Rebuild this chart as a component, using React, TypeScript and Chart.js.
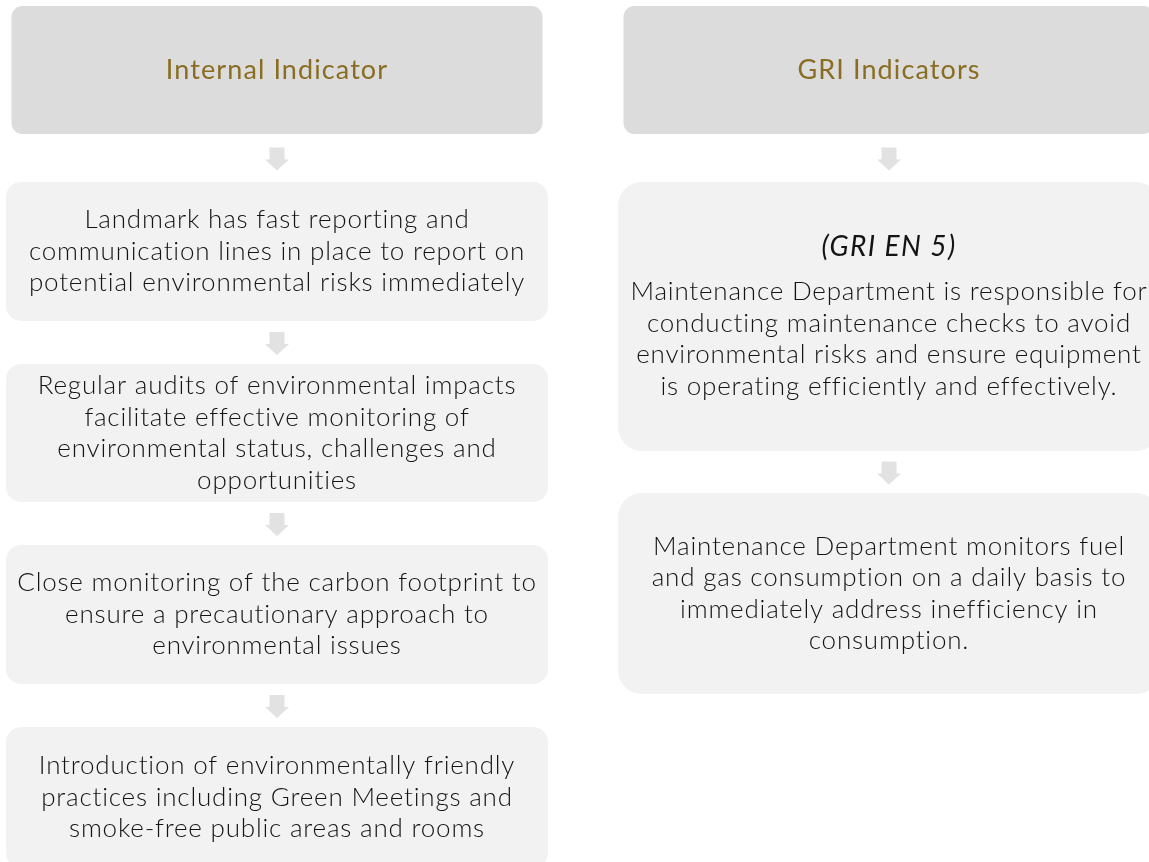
import React, { useEffect, useRef } from "react";
import { Chart, registerables } from "chart.js";

Chart.register(...registerables);

// ---- data ----
const columnCenters = [277, 889];
const headerTitles = ["Internal Indicator", "GRI Indicators"];
const headerSpans: [number, number][] = [
  [6, 134],
  [6, 134],
];

const leftBoxTexts: string[][] = [
  [
    "Landmark has fast reporting and",
    "communication lines in place to report on",
    "potential environmental risks immediately",
  ],
  [
    "Regular audits of environmental impacts",
    "facilitate effective monitoring of",
    "environmental status, challenges and",
    "opportunities",
  ],
  [
    "Close monitoring of the carbon footprint to",
    "ensure a precautionary approach to",
    "environmental issues",
  ],
  [
    "Introduction of environmentally friendly",
    "practices including Green Meetings and",
    "smoke-free public areas and rooms",
  ],
];
const leftBoxSpans: [number, number][] = [
  [182, 321],
  [364, 502],
  [545, 684],
  [727, 868],
];

const rightBoxTitles = ["(GRI EN 5)", ""];
const rightBoxTexts: string[][] = [
  [
    "Maintenance Department is responsible for",
    "conducting maintenance checks to avoid",
    "environmental risks and ensure equipment",
    "is operating efficiently and effectively.",
  ],
  [
    "Maintenance Department monitors fuel",
    "and gas consumption on a daily basis to",
    "immediately address inefficiency in",
    "consumption.",
  ],
];
const rightBoxSpans: [number, number][] = [
  [182, 451],
  [493, 694],
];

const FONT = "Lato, 'Open Sans', sans-serif";
const HEADER_COLOR = "#8a6d22";
const TEXT_COLOR = "#141414";
const ARROW_COLOR = "#e2e2e2";

const flowPlugin = {
  id: "flowPlugin",
  beforeDatasetsDraw(chart: any) {
    const ctx = chart.ctx;
    const headerMeta = chart.getDatasetMeta(0);
    const leftMeta = chart.getDatasetMeta(1);
    const rightMeta = chart.getDatasetMeta(2);
    const cols = [
      [headerMeta.data[0], ...leftMeta.data],
      [headerMeta.data[1], ...rightMeta.data],
    ];
    ctx.save();
    ctx.fillStyle = ARROW_COLOR;
    cols.forEach((els: any[]) => {
      for (let i = 0; i < els.length - 1; i++) {
        const a = els[i];
        const b = els[i + 1];
        const bottom = Math.max(a.y, a.base);
        const top = Math.min(b.y, b.base);
        const cx = a.x;
        const mid = (bottom + top) / 2 + 1;
        const t = mid - 11.5;
        const shaftEnd = mid + 0.5;
        const tip = mid + 11.5;
        ctx.beginPath();
        ctx.moveTo(cx - 7.5, t);
        ctx.lineTo(cx + 7.5, t);
        ctx.lineTo(cx + 7.5, shaftEnd);
        ctx.lineTo(cx + 12, shaftEnd);
        ctx.lineTo(cx, tip);
        ctx.lineTo(cx - 12, shaftEnd);
        ctx.lineTo(cx - 7.5, shaftEnd);
        ctx.closePath();
        ctx.fill();
      }
    });
    ctx.restore();
  },
  afterDatasetsDraw(chart: any) {
    const ctx = chart.ctx;
    ctx.save();
    ctx.textAlign = "center";
    ctx.textBaseline = "middle";
    // headers
    const headerMeta = chart.getDatasetMeta(0);
    headerMeta.data.forEach((el: any, i: number) => {
      const cy = (el.y + el.base) / 2;
      ctx.font = `27px ${FONT}`;
      (ctx as any).letterSpacing = "1.1px";
      ctx.fillStyle = HEADER_COLOR;
      ctx.fillText(headerTitles[i], el.x, cy);
    });
    const lh = 31.5;
    const drawBlock = (el: any, lines: string[], title: string) => {
      const top = Math.min(el.y, el.base);
      const bottom = Math.max(el.y, el.base);
      const cy = (top + bottom) / 2;
      const titleGap = title ? 45 : 0;
      const totalH = (lines.length - 1) * lh + titleGap;
      let y = cy - totalH / 2;
      ctx.fillStyle = TEXT_COLOR;
      if (title) {
        ctx.font = `italic 28px ${FONT}`;
        (ctx as any).letterSpacing = "1.4px";
        ctx.fillText(title, el.x, y);
        y += titleGap;
      }
      ctx.font = `300 26px ${FONT}`;
      (ctx as any).letterSpacing = "0.8px";
      lines.forEach((ln, k) => {
        ctx.fillText(ln, el.x, y + k * lh);
      });
    };
    chart.getDatasetMeta(1).data.forEach((el: any, i: number) =>
      drawBlock(el, leftBoxTexts[i], "")
    );
    chart.getDatasetMeta(2).data.forEach((el: any, i: number) =>
      drawBlock(el, rightBoxTexts[i], rightBoxTitles[i])
    );
    ctx.restore();
  },
};

export default function App() {
  const ref = useRef<HTMLCanvasElement>(null);
  useEffect(() => {
    if (!ref.current) return;
    const chart = new Chart(ref.current, {
      type: "bar",
      data: {
        datasets: [
          {
            label: "Headers",
            data: headerSpans.map((s, i) => ({ x: columnCenters[i], y: s })) as any,
            backgroundColor: "#dcdcdc",
            barThickness: 531,
            borderRadius: 11,
            borderSkipped: false,
            grouped: false,
            inflateAmount: 0,
          } as any,
          {
            label: "Internal",
            data: leftBoxSpans.map((s) => ({ x: columnCenters[0], y: s })) as any,
            backgroundColor: "#f2f2f2",
            barThickness: 542,
            borderRadius: 15,
            borderSkipped: false,
            grouped: false,
            inflateAmount: 0,
          } as any,
          {
            label: "GRI",
            data: rightBoxSpans.map((s) => ({ x: columnCenters[1], y: s })) as any,
            backgroundColor: "#f2f2f2",
            barThickness: 542,
            borderRadius: 24,
            borderSkipped: false,
            grouped: false,
            inflateAmount: 0,
          } as any,
        ],
      },
      options: {
        animation: false,
        responsive: false,
        maintainAspectRatio: false,
        layout: { padding: 0 },
        plugins: {
          legend: { display: false },
          tooltip: { enabled: false },
        },
        scales: {
          x: { type: "linear", min: 0, max: 1149, offset: false, display: false },
          y: { type: "linear", min: 0, max: 862, reverse: true, display: false },
        },
      } as any,
      plugins: [flowPlugin],
    });
    return () => chart.destroy();
  }, []);
  return (
    <div style={{ position: "fixed", left: 0, top: 0, width: 1149, height: 862, background: "#fff" }}>
      <canvas ref={ref} width={1149} height={862} style={{ display: "block" }} />
    </div>
  );
}
